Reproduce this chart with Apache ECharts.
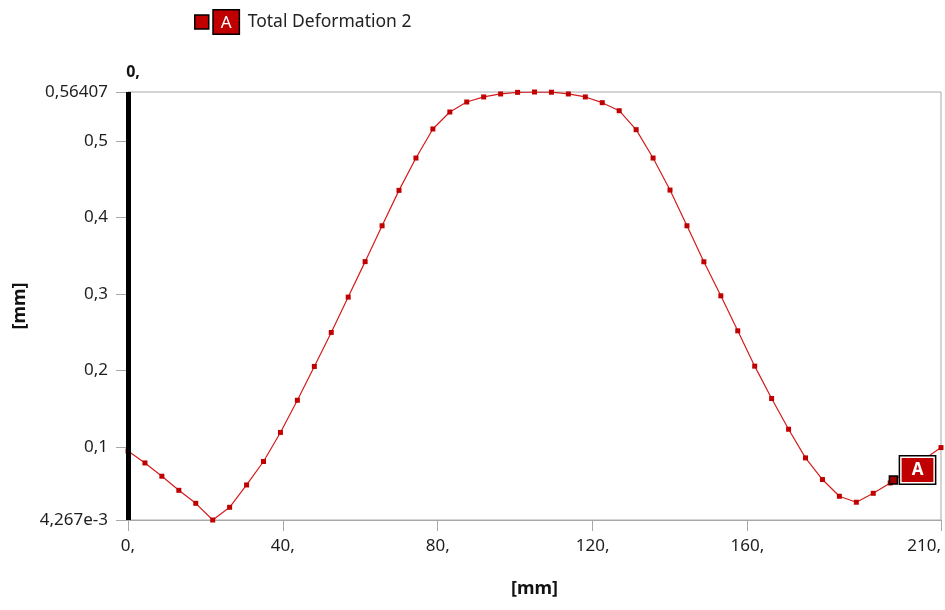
<!DOCTYPE html>
<html>
<head>
<meta charset="utf-8">
<script src="https://cdn.jsdelivr.net/npm/echarts@6/dist/echarts.min.js"></script>
<style>
  html, body { margin: 0; padding: 0; background: #fff; }
  #chart { width: 945px; height: 610px; }
</style>
</head>
<body>
<div id="chart"></div>
<script>
// Path position along the probe line [mm]
const positions = [
  0, 4.38, 8.75, 13.13, 17.5, 21.88, 26.25, 30.63, 35, 39.38,
  43.75, 48.13, 52.5, 56.88, 61.25, 65.63, 70, 74.38, 78.75, 83.13,
  87.5, 91.88, 96.25, 100.63, 105, 109.38, 113.75, 118.13, 122.5, 126.88,
  131.25, 135.63, 140, 144.38, 148.75, 153.13, 157.5, 161.88, 166.25, 170.63,
  175, 179.38, 183.75, 188.13, 192.5, 196.88, 201.25, 205.63, 210
];
// Total deformation along the path [mm]
const deformation = [
  0.0945, 0.0789, 0.0615, 0.0431, 0.0261, 0.004267, 0.0209, 0.0501, 0.0808, 0.1188,
  0.1609, 0.2051, 0.2496, 0.2958, 0.3422, 0.3891, 0.4354, 0.4777, 0.5157, 0.5379,
  0.551, 0.5576, 0.5615, 0.5636, 0.56407, 0.5638, 0.5615, 0.5576, 0.5501, 0.5396,
  0.5148, 0.4777, 0.4358, 0.3891, 0.342, 0.2975, 0.2517, 0.2055, 0.1632, 0.123,
  0.0855, 0.0572, 0.0353, 0.0275, 0.0392, 0.0527, 0.068, 0.0838, 0.099
];
const seriesName = 'Total Deformation 2';

// Axis ticks and their printed labels
const xTicks = [0, 40, 80, 120, 160, 210];
const xTickLabels = ['0,', '40,', '80,', '120,', '160,', '210,'];
const yTicks = [0.004267, 0.1, 0.2, 0.3, 0.4, 0.5, 0.56407];
const yTickLabels = ['4,267e-3', '0,1', '0,2', '0,3', '0,4', '0,5', '0,56407'];
const yMin = 0.004267, yMax = 0.56407;
const xMin = 0, xMax = 210;

// Probe "A"
const probe = [197.7, 0.0565];
const probeTag = 'A';
const cursorX = 0;
const cursorLabel = '0,';

const FONT = '"Noto Sans", "Open Sans", sans-serif';
const RED = '#c00000';
const GRAY = '#a8a8a8';

function lookup(ticks, labels, v) {
  for (let i = 0; i < ticks.length; i++) {
    if (Math.abs(ticks[i] - v) < 1e-6) return labels[i];
  }
  return '';
}

const chart = echarts.init(document.getElementById('chart'), null, { renderer: 'canvas' });

chart.setOption({
  animation: false,
  backgroundColor: '#fff',
  textStyle: { fontFamily: FONT },
  grid: {
    left: 128, right: 4, top: 92, bottom: 90,
    containLabel: false, outerBoundsMode: 'none',
    show: true, borderColor: GRAY, borderWidth: 1, backgroundColor: 'transparent'
  },
  legend: {
    left: 189, top: 4,
    icon: 'rect', itemWidth: 14, itemHeight: 14, itemGap: 8,
    itemStyle: { color: RED, borderColor: '#000', borderWidth: 1.5 },
    data: [seriesName],
    formatter: name => '{a|' + probeTag + '}  ' + name,
    textStyle: {
      fontFamily: FONT, fontSize: 17.5, color: '#222',
      rich: {
        a: {
          fontFamily: FONT, fontSize: 17, color: '#fff',
          backgroundColor: RED, borderColor: '#000', borderWidth: 1.5,
          padding: [4, 7, 2, 7]
        }
      }
    }
  },
  xAxis: {
    type: 'value', min: xMin, max: xMax,
    name: '[mm]', nameLocation: 'middle', nameGap: 60,
    nameTextStyle: { fontFamily: FONT, fontSize: 18, fontWeight: 'bold', color: '#111' },
    axisLine: { show: true, lineStyle: { color: GRAY, width: 1 } },
    axisTick: { show: true, length: 11, customValues: xTicks, lineStyle: { color: GRAY } },
    axisLabel: {
      customValues: xTicks, margin: 18, alignMaxLabel: 'right',
      fontFamily: FONT, fontSize: 17, color: '#1e1e1e',
      formatter: v => lookup(xTicks, xTickLabels, v)
    },
    splitLine: { show: false }
  },
  yAxis: {
    type: 'value', min: yMin, max: yMax,
    name: '[mm]', nameLocation: 'middle', nameGap: 98,
    nameTextStyle: { fontFamily: FONT, fontSize: 18, fontWeight: 'bold', color: '#111' },
    axisLine: { show: true, lineStyle: { color: GRAY, width: 1 } },
    axisTick: { show: true, length: 12, customValues: yTicks, lineStyle: { color: GRAY } },
    axisLabel: {
      customValues: yTicks, margin: 20,
      fontFamily: FONT, fontSize: 17, color: '#1e1e1e',
      formatter: v => lookup(yTicks, yTickLabels, v)
    },
    splitLine: { show: false }
  },
  series: [{
    name: seriesName,
    type: 'line',
    data: positions.map((x, i) => [x, deformation[i]]),
    symbol: 'rect', symbolSize: 5, showAllSymbol: true,
    itemStyle: { color: RED },
    lineStyle: { color: '#d41c1c', width: 1.2 },
    markLine: {
      silent: true, symbol: 'none', animation: false,
      lineStyle: { color: '#000', width: 5, type: 'solid' },
      label: {
        show: true, position: 'end', distance: 12, offset: [5, 0],
        formatter: cursorLabel,
        fontFamily: FONT, fontSize: 16, fontWeight: 'bold', color: '#111'
      },
      data: [{ xAxis: cursorX }]
    },
    markPoint: {
      silent: true, symbol: 'rect', symbolSize: 8,
      itemStyle: { color: '#a00000', borderColor: '#000', borderWidth: 1.5 },
      label: {
        show: true, position: 'right', distance: 2, offset: [0, -10],
        formatter: '{a|' + probeTag + '}',
        backgroundColor: '#fff', borderColor: '#000', borderWidth: 1.5, padding: 1.5,
        rich: {
          a: {
            fontFamily: FONT, fontSize: 17, fontWeight: 'bold', color: '#fff',
            backgroundColor: RED, padding: [4, 10, 3, 10]
          }
        }
      },
      data: [{ coord: probe }]
    }
  }]
});
</script>
</body>
</html>
